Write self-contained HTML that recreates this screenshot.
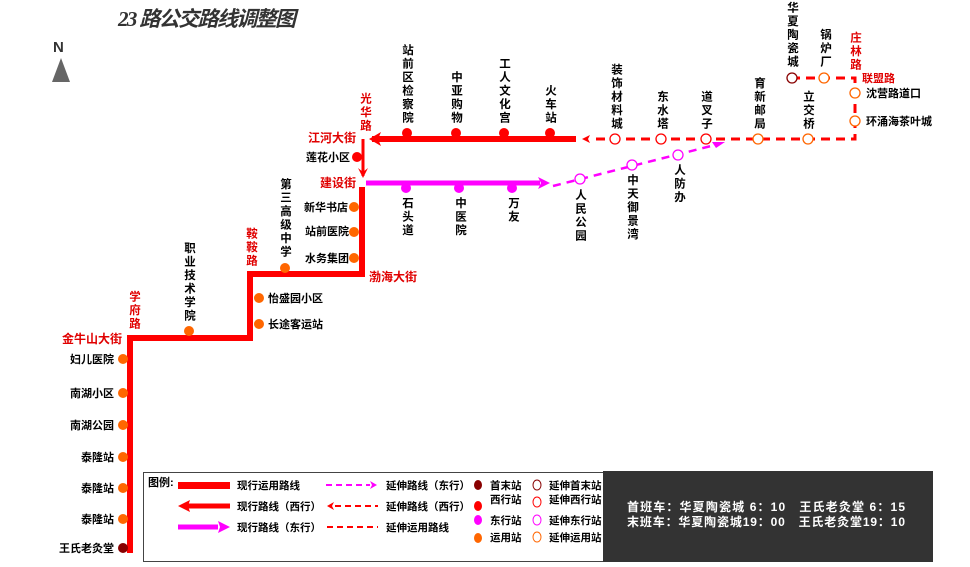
<!DOCTYPE html>
<html><head><meta charset="utf-8"><style>
html,body{margin:0;padding:0;background:#fff}
svg{display:block}
text{font-family:"Liberation Sans","Noto Sans CJK SC",sans-serif;font-weight:bold;font-size:11px;fill:#000}
.v{writing-mode:vertical-rl;letter-spacing:2px;font-size:11.5px}
.r{fill:#e00000}
</style></head><body>
<svg width="970" height="567" viewBox="0 0 970 567" xmlns="http://www.w3.org/2000/svg">
<text x="118" y="26" style="font-size:21px;font-style:italic;fill:#333;font-family:'Liberation Serif','Noto Sans CJK SC',serif" textLength="178">23 路公交路线调整图</text>
<text x="53" y="52" style="font-size:15px;fill:#333">N</text>
<polygon points="61,58 52,82 70,82" fill="#666"/>

<polyline points="130,553 130,338 250,338 250,274 362,274 362,187" fill="none" stroke="#f00" stroke-width="6"/>
<line x1="363" y1="139" x2="363" y2="176" stroke="#f00" stroke-width="3"/>
<polygon points="358,168 363,178 368,168 363,172" fill="#f00"/>
<line x1="372" y1="139" x2="576" y2="139" stroke="#f00" stroke-width="6"/>
<polygon points="369,139 381,132 378,139 381,146" fill="#f00"/>
<line x1="366" y1="183" x2="540" y2="183" stroke="#f0f" stroke-width="5"/>
<polygon points="550,183 538,177 541,183 538,189" fill="#f0f"/>

<polyline points="596,139 855,139 855,78 790,78" fill="none" stroke="#f00" stroke-width="3" stroke-dasharray="9,6"/>
<polygon points="582,139 590,135 588,139 590,143" fill="#f00"/>
<line x1="553" y1="186" x2="715" y2="145" stroke="#f0f" stroke-width="2.5" stroke-dasharray="8,6"/>
<polygon points="725,142 712,142 716,148" fill="#f0f"/>

<g fill="#f00"><circle cx="407" cy="133" r="5"/><circle cx="456" cy="133" r="5"/><circle cx="504" cy="133" r="5"/><circle cx="550" cy="133" r="5"/><circle cx="357" cy="157" r="5"/></g>
<g fill="#f0f"><circle cx="406" cy="188" r="5"/><circle cx="459" cy="188" r="5"/><circle cx="512" cy="188" r="5"/></g>
<g fill="#f60"><circle cx="354" cy="207" r="5"/><circle cx="354" cy="232" r="5"/><circle cx="354" cy="258" r="5"/><circle cx="285" cy="268" r="5"/><circle cx="259" cy="298" r="5"/><circle cx="259" cy="324" r="5"/><circle cx="189" cy="331" r="5"/>
<circle cx="123" cy="359" r="5"/><circle cx="123" cy="393" r="5"/><circle cx="123" cy="425" r="5"/><circle cx="123" cy="457" r="5"/><circle cx="123" cy="488" r="5"/><circle cx="123" cy="519" r="5"/></g>
<circle cx="123" cy="548" r="5" fill="#800"/>

<g fill="#fff" stroke-width="1.3">
<circle cx="615" cy="139" r="5" stroke="#f00"/><circle cx="661" cy="139" r="5" stroke="#f00"/><circle cx="706" cy="139" r="5" stroke="#f00"/>
<circle cx="758" cy="139" r="5" stroke="#f60"/><circle cx="808" cy="139" r="5" stroke="#f60"/>
<circle cx="792" cy="78" r="5" stroke="#800"/><circle cx="824" cy="78" r="5" stroke="#f60"/>
<circle cx="855" cy="93" r="5" stroke="#f60"/><circle cx="855" cy="121" r="5" stroke="#f60"/>
<circle cx="580" cy="179" r="5" stroke="#f0f"/><circle cx="632" cy="165" r="5" stroke="#f0f"/><circle cx="678" cy="155" r="5" stroke="#f0f"/>
</g>

<text class="v" x="407" y="125" text-anchor="end">站前区检察院</text>
<text class="v" x="456" y="125" text-anchor="end">中亚购物</text>
<text class="v" x="504" y="125" text-anchor="end">工人文化宫</text>
<text class="v" x="550" y="125" text-anchor="end">火车站</text>
<text class="v" x="616" y="131" text-anchor="end">装饰材料城</text>
<text class="v" x="662" y="131" text-anchor="end">东水塔</text>
<text class="v" x="706" y="131" text-anchor="end">道叉子</text>
<text class="v" x="759" y="131" text-anchor="end">育新邮局</text>
<text class="v" x="808" y="131" text-anchor="end">立交桥</text>
<text class="v" x="792" y="69" text-anchor="end">华夏陶瓷城</text>
<text class="v" x="825" y="69" text-anchor="end">锅炉厂</text>
<text class="v r" x="855" y="72" text-anchor="end">庄林路</text>
<text class="v r" x="365" y="133" text-anchor="end">光华路</text>
<text class="v" x="189" y="323" text-anchor="end">职业技术学院</text>
<text class="v" x="285" y="259" text-anchor="end">第三高级中学</text>
<text class="v r" x="251" y="268" text-anchor="end">鞍鞍路</text>
<text class="v r" x="134" y="331" text-anchor="end">学府路</text>
<text class="v" x="407" y="197">石头道</text>
<text class="v" x="460" y="197">中医院</text>
<text class="v" x="513" y="197">万友</text>
<text class="v" x="580" y="189">人民公园</text>
<text class="v" x="632" y="174">中天御景湾</text>
<text class="v" x="679" y="164">人防办</text>

<text class="r" x="308" y="142" style="font-size:12px">江河大街</text>
<text x="306" y="161">莲花小区</text>
<text class="r" x="320" y="187" style="font-size:12px">建设街</text>
<text x="304" y="211">新华书店</text>
<text x="305" y="235">站前医院</text>
<text x="305" y="262">水务集团</text>
<text class="r" x="369" y="281" style="font-size:12px">渤海大街</text>
<text x="268" y="302">怡盛园小区</text>
<text x="268" y="328">长途客运站</text>
<text class="r" x="62" y="343" style="font-size:12px">金牛山大街</text>
<text x="114" y="363" text-anchor="end">妇儿医院</text>
<text x="114" y="397" text-anchor="end">南湖小区</text>
<text x="114" y="429" text-anchor="end">南湖公园</text>
<text x="114" y="461" text-anchor="end">泰隆站</text>
<text x="114" y="492" text-anchor="end">泰隆站</text>
<text x="114" y="523" text-anchor="end">泰隆站</text>
<text x="114" y="552" text-anchor="end">王氏老灸堂</text>
<text class="r" x="862" y="82">联盟路</text>
<text x="866" y="97">沈营路道口</text>
<text x="866" y="125">环涌海茶叶城</text>

<rect x="143.5" y="472.5" width="465" height="89" fill="#fff" stroke="#444"/>
<text x="148" y="486">图例:</text>
<rect x="178" y="482" width="52" height="7" fill="#f00"/>
<text x="237" y="489" style="font-size:10.5px">现行运用路线</text>
<line x1="188" y1="506" x2="230" y2="506" stroke="#f00" stroke-width="5"/>
<polygon points="178,506 190,500 188,506 190,512" fill="#f00"/>
<text x="237" y="510" style="font-size:10.5px">现行路线（西行）</text>
<line x1="178" y1="527" x2="218" y2="527" stroke="#f0f" stroke-width="5"/>
<polygon points="230,527 218,521 220,527 218,533" fill="#f0f"/>
<text x="237" y="531" style="font-size:10.5px">现行路线（东行）</text>
<line x1="326" y1="485" x2="370" y2="485" stroke="#f0f" stroke-width="2" stroke-dasharray="6,4"/>
<polygon points="377,485 370,481 372,485 370,489" fill="#f0f"/>
<line x1="335" y1="506" x2="378" y2="506" stroke="#f00" stroke-width="2" stroke-dasharray="6,4"/>
<polygon points="327,506 334,502 332,506 334,510" fill="#f00"/>
<line x1="327" y1="527" x2="378" y2="527" stroke="#f00" stroke-width="2" stroke-dasharray="6,4"/>
<text x="386" y="489" style="font-size:10.5px">延伸路线（东行）</text>
<text x="386" y="510" style="font-size:10.5px">延伸路线（西行）</text>
<text x="386" y="531" style="font-size:10.5px">延伸运用路线</text>
<ellipse cx="478" cy="485" rx="4" ry="5" fill="#800"/>
<ellipse cx="478" cy="506" rx="4" ry="5" fill="#f00"/>
<ellipse cx="478" cy="520" rx="4" ry="5" fill="#f0f"/>
<ellipse cx="478" cy="538" rx="4" ry="5" fill="#f60"/>
<text x="490" y="489" style="font-size:10.5px">首末站</text>
<text x="490" y="503" style="font-size:10.5px">西行站</text>
<text x="490" y="524" style="font-size:10.5px">东行站</text>
<text x="490" y="541" style="font-size:10.5px">运用站</text>
<g fill="#fff" stroke-width="1"><ellipse cx="537" cy="485" rx="4" ry="5" stroke="#800"/><ellipse cx="537" cy="502" rx="4" ry="5" stroke="#f00"/><ellipse cx="537" cy="520" rx="4" ry="5" stroke="#f0f"/><ellipse cx="537" cy="537" rx="4" ry="5" stroke="#f60"/></g>
<text x="549" y="489" style="font-size:10.5px">延伸首末站</text>
<text x="549" y="503" style="font-size:10.5px">延伸西行站</text>
<text x="549" y="524" style="font-size:10.5px">延伸东行站</text>
<text x="549" y="541" style="font-size:10.5px">延伸运用站</text>
<rect x="603" y="471" width="330" height="91" fill="#333"/>
<text x="627" y="511" style="fill:#fff;font-size:12px" textLength="278">首班车：华夏陶瓷城 6：10　王氏老灸堂 6：15</text>
<text x="627" y="526" style="fill:#fff;font-size:12px" textLength="278">末班车：华夏陶瓷城19：00　王氏老灸堂19：10</text>
</svg>
</body></html>
